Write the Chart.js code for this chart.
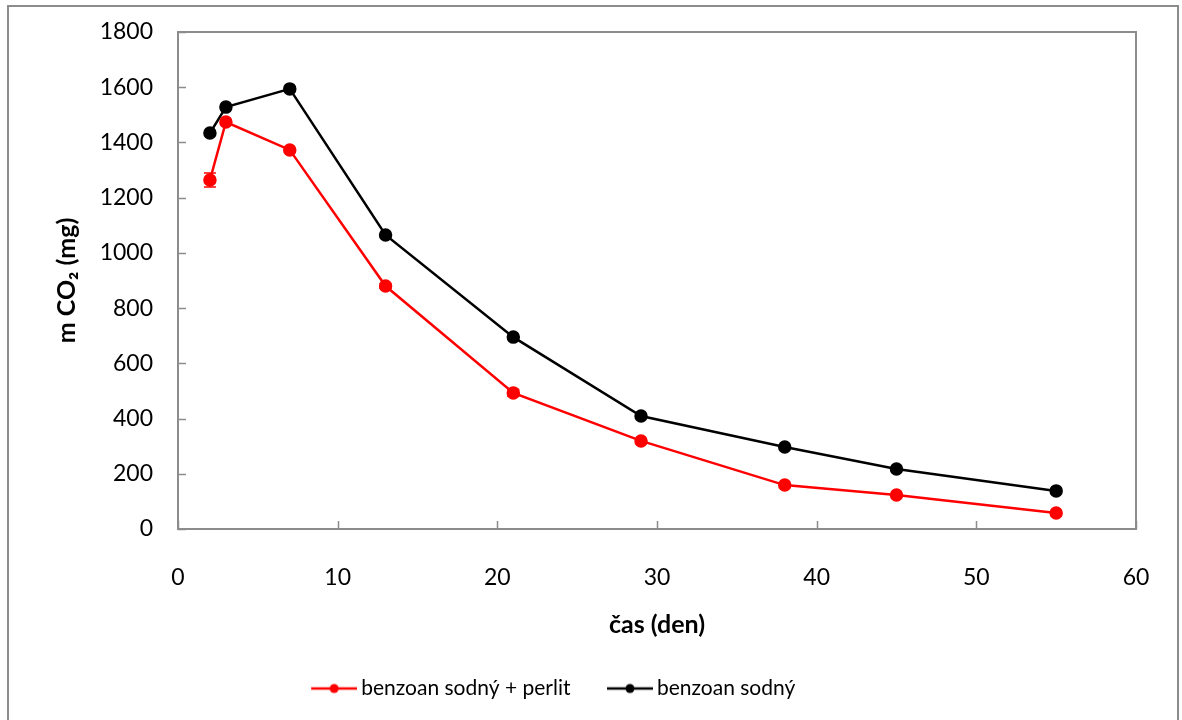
<!DOCTYPE html>
<html>
<head>
<meta charset="utf-8">
<script src="https://cdn.jsdelivr.net/npm/chart.js@4"></script>
<style>
  html, body { margin: 0; padding: 0; background: #fff; }
  #wrap { width: 1182px; height: 720px; position: relative; }
</style>
</head>
<body>
<div id="wrap"><canvas id="co2Chart" width="1182" height="720"></canvas></div>
<script>
// days of measurement
const days = [2, 3, 7, 13, 21, 29, 38, 45, 55];
// m CO2 (mg)
const perlitValues = [1264, 1474, 1373, 880, 493, 319, 159, 123, 58];
const perlitErrors = [25, 0, 0, 8, 12, 0, 0, 0, 0];
const benzoanValues = [1434, 1528, 1594, 1065, 695, 409, 297, 217, 138];
const seriesLabels = ['benzoan sodný + perlit', 'benzoan sodný'];
const seriesColors = ['#ff0000', '#000000'];
const xTicks = [0, 10, 20, 30, 40, 50, 60];
const yTicks = [0, 200, 400, 600, 800, 1000, 1200, 1400, 1600, 1800];

const FONT = 'Lato, "Open Sans", sans-serif';

// line with a dot, shifted right so it ends close to the label text
function legendIcon(color) {
    const c = document.createElement('canvas');
    c.width = 59;
    c.height = 12;
    const g = c.getContext('2d');
    g.strokeStyle = color;
    g.lineWidth = 2.5;
    g.beginPath();
    g.moveTo(13, 6);
    g.lineTo(59, 6);
    g.stroke();
    g.fillStyle = color;
    g.beginPath();
    g.arc(36, 6, 4.5, 0, Math.PI * 2);
    g.fill();
    return c;
}

const framePlugin = {
    id: 'frame',
    afterLayout(chart) {
        // Excel puts the legend a little left of centre
        chart.legend.left -= 18;
        chart.legend.right -= 18;
    },
    afterDraw(chart) {
        const ctx = chart.ctx;
        const a = chart.chartArea;
        ctx.save();
        ctx.strokeStyle = '#8c8c8c';
        ctx.lineWidth = 2;
        ctx.strokeRect(8, 6, 1170, 730);
        ctx.strokeRect(a.left, a.top, a.right - a.left, a.bottom - a.top);
        // tick marks point into the plot
        const xs = chart.scales.x, ys = chart.scales.y;
        ctx.lineWidth = 1.5;
        ctx.beginPath();
        yTicks.forEach(v => {
            const y = Math.round(ys.getPixelForValue(v)) + 0.5;
            ctx.moveTo(a.left, y);
            ctx.lineTo(a.left + 8, y);
        });
        xTicks.forEach(v => {
            const x = Math.round(xs.getPixelForValue(v)) + 0.5;
            ctx.moveTo(x, a.bottom);
            ctx.lineTo(x, a.bottom - 8);
        });
        ctx.stroke();
        ctx.restore();
    }
};

const errorBarPlugin = {
    id: 'errorBars',
    afterDatasetsDraw(chart) {
        const ctx = chart.ctx;
        const xs = chart.scales.x, ys = chart.scales.y;
        ctx.save();
        ctx.strokeStyle = seriesColors[0];
        ctx.lineWidth = 1.5;
        days.forEach((d, i) => {
            const e = perlitErrors[i];
            if (!e) return;
            const x = xs.getPixelForValue(d);
            const y1 = ys.getPixelForValue(perlitValues[i] - e);
            const y2 = ys.getPixelForValue(perlitValues[i] + e);
            ctx.beginPath();
            ctx.moveTo(x, y1); ctx.lineTo(x, y2);
            ctx.moveTo(x - 6, y1); ctx.lineTo(x + 6, y1);
            ctx.moveTo(x - 6, y2); ctx.lineTo(x + 6, y2);
            ctx.stroke();
        });
        ctx.restore();
    }
};

function toPoints(values) {
    return days.map((d, i) => ({ x: d, y: values[i] }));
}

new Chart(document.getElementById('co2Chart'), {
    type: 'line',
    data: {
        datasets: [{
            label: seriesLabels[0],
            data: toPoints(perlitValues),
            borderColor: seriesColors[0],
            backgroundColor: seriesColors[0],
            borderWidth: 2.5,
            pointRadius: 5.5,
            pointHoverRadius: 5.5,
            tension: 0
        }, {
            label: seriesLabels[1],
            data: toPoints(benzoanValues),
            borderColor: seriesColors[1],
            backgroundColor: seriesColors[1],
            borderWidth: 2.5,
            pointRadius: 5.5,
            pointHoverRadius: 5.5,
            tension: 0
        }]
    },
    options: {
        responsive: false,
        animation: false,
        layout: { padding: { top: 32, right: 46, left: 0, bottom: 11 } },
        scales: {
            x: {
                type: 'linear',
                min: 0,
                max: 60,
                afterBuildTicks: s => { s.ticks = xTicks.map(v => ({ value: v })); },
                afterFit: s => { s.height = 119; s.paddingLeft = 0; s.paddingRight = 0; },
                grid: { display: false, drawTicks: false },
                border: { display: false },
                ticks: { padding: 35, color: '#000', font: { family: FONT, size: 23 }, callback: v => String(v) },
                title: {
                    display: true,
                    text: 'čas (den)',
                    color: '#000',
                    font: { family: FONT, size: 25, weight: 'bold' },
                    padding: { top: 0, bottom: 8 }
                }
            },
            y: {
                min: 0,
                max: 1800,
                afterBuildTicks: s => { s.ticks = yTicks.map(v => ({ value: v })); },
                afterFit: s => { s.width = 178; s.paddingTop = 0; s.paddingBottom = 0; },
                grid: { display: false, drawTicks: false },
                border: { display: false },
                ticks: { padding: 25, color: '#000', font: { family: FONT, size: 23 }, callback: v => String(v) },
                title: {
                    display: true,
                    text: 'm CO₂ (mg)',
                    color: '#000',
                    font: { family: FONT, size: 25, weight: 'bold' },
                    padding: { top: 52, bottom: 0 }
                }
            }
        },
        plugins: {
            legend: {
                position: 'bottom',
                labels: {
                    usePointStyle: true,
                    pointStyleWidth: 46,
                    padding: 30,
                    color: '#000',
                    font: { family: FONT, size: 21 },
                    generateLabels: chart => chart.data.datasets.map((ds, i) => ({
                        text: ds.label,
                        pointStyle: legendIcon(seriesColors[i]),
                        fillStyle: seriesColors[i],
                        strokeStyle: seriesColors[i],
                        fontColor: '#000',
                        lineWidth: 0,
                        hidden: false,
                        datasetIndex: i
                    }))
                }
            },
            tooltip: { enabled: false }
        }
    },
    plugins: [framePlugin, errorBarPlugin]
});
</script>
</body>
</html>
